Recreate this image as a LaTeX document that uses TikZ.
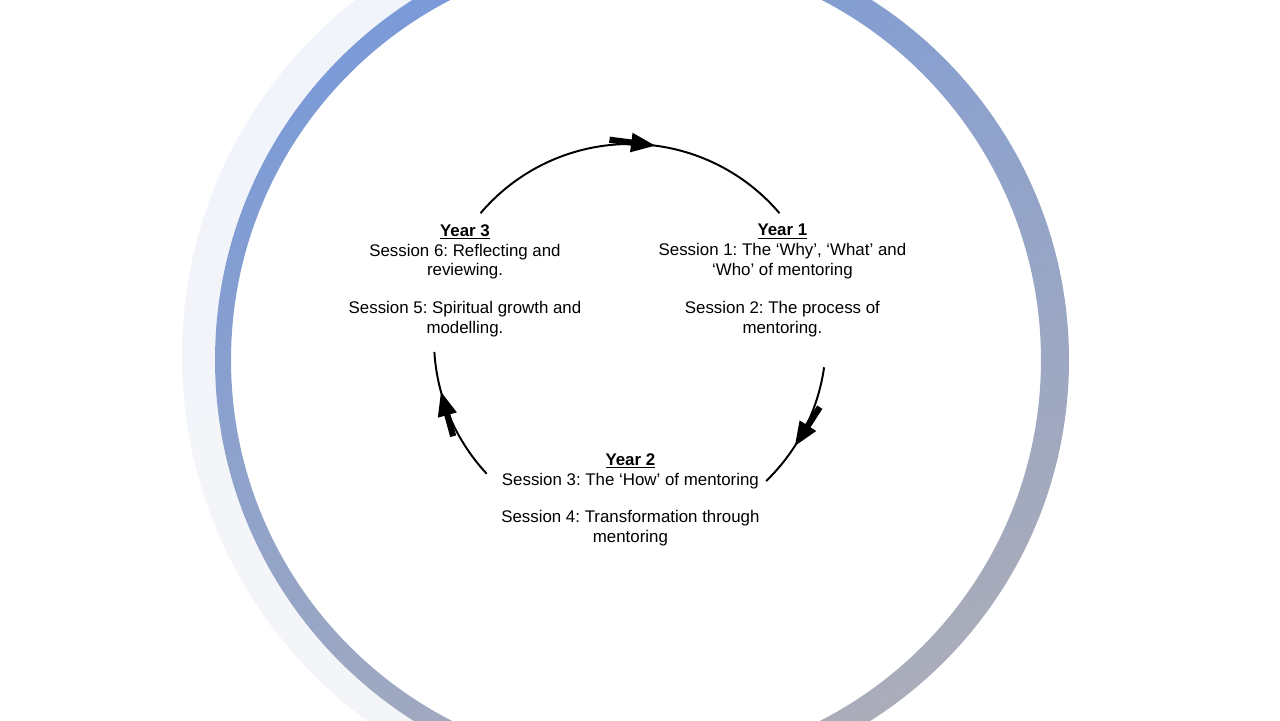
\documentclass[tikz,border=0pt]{standalone}
\usepackage{fontspec}
\setmainfont{Liberation Sans}
\frenchspacing
\usetikzlibrary{arrows.meta,decorations.markings}
\definecolor{ringblue}{HTML}{7A9AD8}
\definecolor{ringgrey}{HTML}{ABADB9}
\tikzset{
  yearbox/.style={align=center, anchor=north, inner sep=0pt, font=\fontsize{12}{14.2}\selectfont},
  cycarc/.style={line width=1.4pt, postaction={decorate},
    decoration={markings, mark=at position #1 with {
      \fill (-1.15cm,-2.2pt) rectangle (-0.5cm,2.2pt);
      \arrow{Triangle[length=0.6cm,width=0.48cm]}}}}
}
\begin{document}
\begin{tikzpicture}
\useasboundingbox (0,0) rectangle (32,18);
\clip (0,0) rectangle (32,18);
\fill[white] (0,0) rectangle (32,18);
\begin{scope}
\clip (0,0) rectangle (12,18);
\shade[even odd rule, top color=ringblue!30, bottom color=ringgrey!30, shading angle=25, opacity=0.35] (16.05,9) circle (10.675) (15.85,9.1) circle (11.3);
\end{scope}
\shade[even odd rule, top color=ringblue, bottom color=ringgrey, shading angle=25] (15.9,9) circle (10.125) (16.05,9) circle (10.675);
\coordinate (cyc) at (15.75,9.5);
\path (cyc) ++(139.7:4.9) coordinate (topstart);
\path (cyc) ++(-8:4.9) coordinate (rightstart);
\path (cyc) ++(223:4.9) coordinate (leftstart);
\node[yearbox] (year3) at (11.625,12.4) {\underline{\textbf{Year 3}}\\Session 6: Reflecting and\\reviewing.\\[12.8pt]Session 5: Spiritual growth and\\modelling.};
\node[yearbox] (year1) at (19.56,12.4) {\underline{\textbf{Year 1}}\\Session 1: The ‘Why’, ‘What’ and\\‘Who’ of mentoring\\[12.8pt]Session 2: The process of\\mentoring.};
\node[yearbox] (year2) at (15.76,6.675) {\underline{\textbf{Year 2}}\\Session 3: The ‘How’ of mentoring\\[12.8pt]Session 4: Transformation through\\mentoring};
\draw[cycarc=0.574] (topstart) arc[start angle=139.7, end angle=40.3, radius=4.9];
\draw[cycarc=0.65] (rightstart) arc[start angle=-8, end angle=-46, radius=4.9];
\draw[cycarc=0.70] (leftstart) arc[start angle=223, end angle=183.5, radius=4.9];
\end{tikzpicture}
\end{document}
